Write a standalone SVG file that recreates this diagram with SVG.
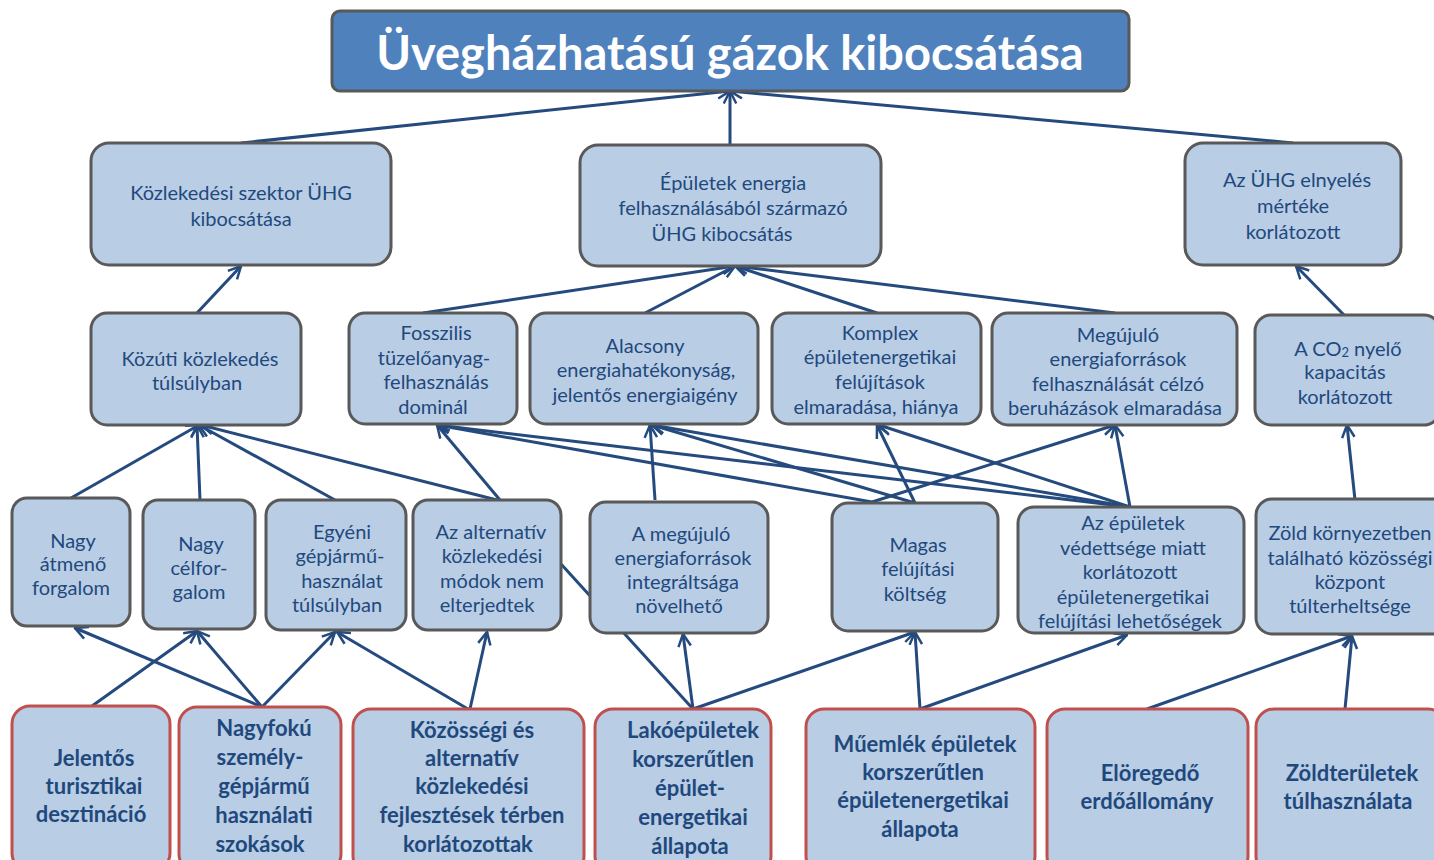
<svg xmlns="http://www.w3.org/2000/svg" width="1434" height="860" viewBox="0 0 1434 860">
<defs>
<style>
.n rect{fill:#b9cde5;stroke:#595959;stroke-width:3}
.r rect{fill:#b9cde5;stroke:#c0504d;stroke-width:3}
.n text{font-family:Lato,"Liberation Sans",sans-serif;font-size:20px;fill:#1f497d;text-anchor:middle;dominant-baseline:central}
.r text{font-family:Lato,"Liberation Sans",sans-serif;font-size:22px;font-weight:bold;fill:#1f497d;text-anchor:middle;dominant-baseline:central}
.c line{stroke:#254a7e;stroke-width:3;fill:none}
.c line.a{marker-end:url(#ah)}
</style>
<marker id="ah" viewBox="0 0 12 12" refX="11" refY="6" markerWidth="15" markerHeight="15" markerUnits="userSpaceOnUse" orient="auto">
<path d="M1,1 L11,6 L1,11" fill="none" stroke="#254a7e" stroke-width="2"/>
</marker>
</defs>
<rect width="1434" height="860" fill="#ffffff"/>
<g class="c" id="connectors">
<line class="a" x1="241" y1="143" x2="730" y2="91"/>
<line class="a" x1="730" y1="145" x2="730" y2="91"/>
<line class="a" x1="1293" y1="143" x2="730" y2="91"/>
<line class="a" x1="197" y1="313" x2="241" y2="266"/>
<line class="a" x1="423" y1="313" x2="735" y2="266"/>
<line class="a" x1="645" y1="313" x2="735" y2="266"/>
<line class="a" x1="877" y1="313" x2="735" y2="266"/>
<line class="a" x1="1115" y1="313" x2="735" y2="266"/>
<line class="a" x1="1345" y1="316" x2="1296" y2="266"/>
<line class="a" x1="71" y1="498" x2="199" y2="425"/>
<line class="a" x1="200" y1="500" x2="197" y2="425"/>
<line class="a" x1="335" y1="500" x2="199" y2="425"/>
<line class="a" x1="497" y1="500" x2="201" y2="425"/>
<line class="a" x1="500" y1="500" x2="437" y2="425"/>
<line class="a" x1="655" y1="500" x2="650" y2="425"/>
<line class="a" x1="872" y1="502" x2="437" y2="425"/>
<line class="a" x1="915" y1="503" x2="877" y2="425"/>
<line class="a" x1="915" y1="503" x2="652" y2="425"/>
<line class="a" x1="872" y1="502" x2="1115" y2="425"/>
<line class="a" x1="1130" y1="507" x2="437" y2="425"/>
<line class="a" x1="1130" y1="507" x2="652" y2="425"/>
<line class="a" x1="1130" y1="507" x2="879" y2="425"/>
<line class="a" x1="1130" y1="507" x2="1115" y2="425"/>
<line class="a" x1="1355" y1="500" x2="1347" y2="425"/>
<line class="a" x1="262" y1="707" x2="75" y2="628"/>
<line class="a" x1="92" y1="706" x2="197" y2="631"/>
<line class="a" x1="262" y1="707" x2="197" y2="631"/>
<line class="a" x1="262" y1="707" x2="335" y2="632"/>
<line class="a" x1="468" y1="709" x2="337" y2="632"/>
<line class="a" x1="470" y1="709" x2="487" y2="632"/>
<line x1="693" y1="709" x2="561" y2="564"/>
<line class="a" x1="693" y1="709" x2="683" y2="634"/>
<line class="a" x1="693" y1="709" x2="915" y2="632"/>
<line class="a" x1="920" y1="709" x2="915" y2="632"/>
<line class="a" x1="920" y1="709" x2="1127" y2="635"/>
<line class="a" x1="1147" y1="709" x2="1352" y2="636"/>
<line class="a" x1="1345" y1="709" x2="1352" y2="636"/>
</g>
<g id="title">
<rect x="332" y="11" width="797" height="80" rx="8" fill="#4f81bd" stroke="#595959" stroke-width="3"/>
<text x="730" y="52" font-family="Lato,'Liberation Sans',sans-serif" font-size="47" font-weight="bold" fill="#ffffff" text-anchor="middle" dominant-baseline="central">Üvegházhatású gázok kibocsátása</text>
</g>
<g class="n" id="n-kozlekedesi">
<rect x="91" y="143" width="300" height="122" rx="18"/>
<text x="241" y="192">Közlekedési szektor ÜHG</text>
<text x="241" y="218">kibocsátása</text>
</g>
<g class="n" id="n-epuletek">
<rect x="580" y="145" width="301" height="121" rx="18"/>
<text x="733" y="182">Épületek energia</text>
<text x="733" y="207">felhasználásából származó</text>
<text x="722" y="233">ÜHG kibocsátás</text>
</g>
<g class="n" id="n-elnyeles">
<rect x="1185" y="143" width="216" height="122" rx="18"/>
<text x="1297" y="179">Az ÜHG elnyelés</text>
<text x="1293" y="205">mértéke</text>
<text x="1293" y="231">korlátozott</text>
</g>
<g class="n" id="n-kozuti">
<rect x="91" y="313" width="210" height="112" rx="16"/>
<text x="200" y="358">Közúti közlekedés</text>
<text x="197" y="382">túlsúlyban</text>
</g>
<g class="n" id="n-fosszilis">
<rect x="349" y="313" width="168" height="111" rx="16"/>
<text x="436" y="332">Fosszilis</text>
<text x="434" y="357">tüzelőanyag-</text>
<text x="436" y="381">felhasználás</text>
<text x="433" y="406">dominál</text>
</g>
<g class="n" id="n-alacsony">
<rect x="530" y="313" width="228" height="111" rx="16"/>
<text x="645" y="345">Alacsony</text>
<text x="646" y="369">energiahatékonyság,</text>
<text x="645" y="394">jelentős energiaigény</text>
</g>
<g class="n" id="n-komplex">
<rect x="772" y="313" width="209" height="111" rx="16"/>
<text x="880" y="332">Komplex</text>
<text x="880" y="356">épületenergetikai</text>
<text x="880" y="381">felújítások</text>
<text x="876" y="406">elmaradása, hiánya</text>
</g>
<g class="n" id="n-megujulo">
<rect x="992" y="313" width="245" height="112" rx="16"/>
<text x="1118" y="334">Megújuló</text>
<text x="1118" y="358">energiaforrások</text>
<text x="1118" y="383">felhasználását célzó</text>
<text x="1115" y="407">beruházások elmaradása</text>
</g>
<g class="n" id="n-co2">
<rect x="1255" y="315" width="185" height="110" rx="16"/>
<text x="1348" y="348">A CO<tspan font-size="13" dy="4">2</tspan><tspan dy="-4"> nyelő</tspan></text>
<text x="1345" y="371">kapacitás</text>
<text x="1345" y="396">korlátozott</text>
</g>
<g class="n" id="n-atmeno">
<rect x="12" y="498" width="118" height="128" rx="15"/>
<text x="73" y="540">Nagy</text>
<text x="73" y="563">átmenő</text>
<text x="71" y="587">forgalom</text>
</g>
<g class="n" id="n-celforgalom">
<rect x="143" y="500" width="112" height="129" rx="15"/>
<text x="201" y="543">Nagy</text>
<text x="199" y="567">célfor-</text>
<text x="199" y="591">galom</text>
</g>
<g class="n" id="n-egyeni">
<rect x="266" y="500" width="140" height="130" rx="15"/>
<text x="342" y="531">Egyéni</text>
<text x="340" y="555">gépjármű-</text>
<text x="342" y="580">használat</text>
<text x="337" y="604">túlsúlyban</text>
</g>
<g class="n" id="n-alternativ">
<rect x="413" y="500" width="148" height="130" rx="15"/>
<text x="491" y="531">Az alternatív</text>
<text x="492" y="555">közlekedési</text>
<text x="492" y="580">módok nem</text>
<text x="487" y="604">elterjedtek</text>
</g>
<g class="n" id="n-amegujulo">
<rect x="590" y="502" width="178" height="131" rx="16"/>
<text x="681" y="533">A megújuló</text>
<text x="683" y="557">energiaforrások</text>
<text x="683" y="581">integráltsága</text>
<text x="679" y="605">növelhető</text>
</g>
<g class="n" id="n-magas">
<rect x="832" y="503" width="166" height="128" rx="16"/>
<text x="918" y="544">Magas</text>
<text x="918" y="568">felújítási</text>
<text x="915" y="593">költség</text>
</g>
<g class="n" id="n-vedettseg">
<rect x="1018" y="507" width="226" height="126" rx="16"/>
<text x="1133" y="522">Az épületek</text>
<text x="1133" y="547">védettsége miatt</text>
<text x="1130" y="571">korlátozott</text>
<text x="1133" y="596">épületenergetikai</text>
<text x="1130" y="620">felújítási lehetőségek</text>
</g>
<g class="n" id="n-zold">
<rect x="1256" y="499" width="195" height="135" rx="16"/>
<text x="1350" y="532" font-size="18.5">Zöld környezetben</text>
<text x="1350" y="557" font-size="18.5">található közösségi</text>
<text x="1350" y="581">központ</text>
<text x="1350" y="605">túlterheltsége</text>
</g>
<g class="r" id="r-turisztikai">
<rect x="12" y="706" width="158" height="165" rx="18"/>
<text x="94" y="757">Jelentős</text>
<text x="94" y="785">turisztikai</text>
<text x="91" y="813">desztináció</text>
</g>
<g class="r" id="r-nagyfoku">
<rect x="179" y="707" width="162" height="165" rx="18"/>
<text x="264" y="727">Nagyfokú</text>
<text x="260" y="756">személy-</text>
<text x="264" y="785">gépjármű</text>
<text x="264" y="814">használati</text>
<text x="260" y="843">szokások</text>
</g>
<g class="r" id="r-kozossegi">
<rect x="353" y="709" width="231" height="165" rx="18"/>
<text x="472" y="729">Közösségi és</text>
<text x="472" y="757">alternatív</text>
<text x="472" y="785">közlekedési</text>
<text x="472" y="814">fejlesztések térben</text>
<text x="468" y="843">korlátozottak</text>
</g>
<g class="r" id="r-lakoepuletek">
<rect x="595" y="709" width="176" height="165" rx="18"/>
<text x="693" y="729">Lakóépületek</text>
<text x="693" y="758">korszerűtlen</text>
<text x="690" y="787">épület-</text>
<text x="693" y="816">energetikai</text>
<text x="690" y="845">állapota</text>
</g>
<g class="r" id="r-muemlek">
<rect x="806" y="709" width="229" height="165" rx="18"/>
<text x="925" y="743">Műemlék épületek</text>
<text x="923" y="771">korszerűtlen</text>
<text x="923" y="799">épületenergetikai</text>
<text x="920" y="828">állapota</text>
</g>
<g class="r" id="r-eloregedo">
<rect x="1047" y="709" width="201" height="165" rx="18"/>
<text x="1150" y="772">Elöregedő</text>
<text x="1147" y="800">erdőállomány</text>
</g>
<g class="r" id="r-zoldteruletek">
<rect x="1256" y="709" width="190" height="165" rx="18"/>
<text x="1352" y="772">Zöldterületek</text>
<text x="1348" y="800">túlhasználata</text>
</g>
</svg>
